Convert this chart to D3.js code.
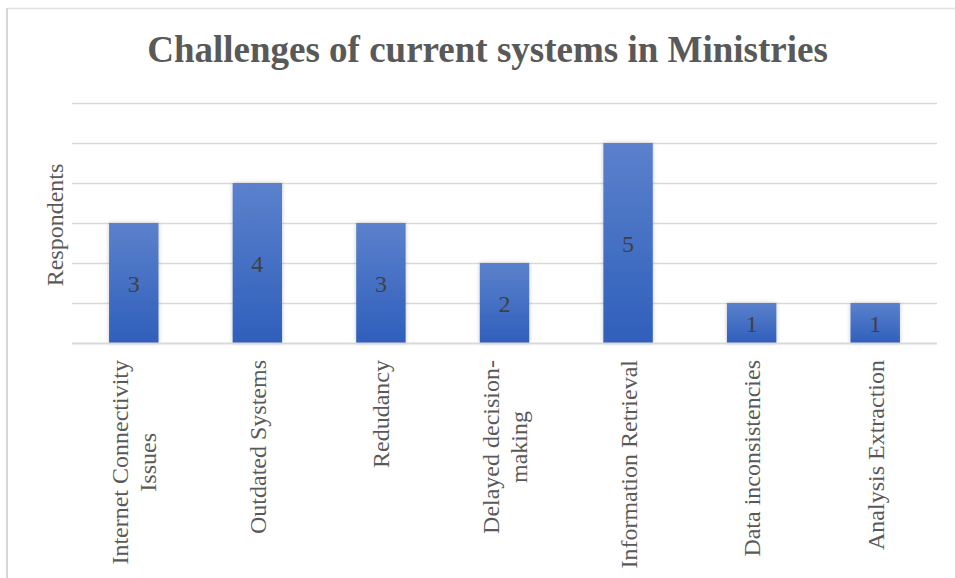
<!DOCTYPE html>
<html>
<head>
<meta charset="utf-8">
<script src="https://cdn.jsdelivr.net/npm/d3@7"></script>
<style>
  html, body { margin: 0; padding: 0; background: #ffffff; }
  svg { display: block; }
</style>
</head>
<body>
<svg id="chart" width="955" height="578"></svg>
<script>
// Survey results: challenges reported with current systems
const categories = [
  ["Internet Connectivity", "Issues"],
  ["Outdated Systems"],
  ["Redudancy"],
  ["Delayed decision-", "making"],
  ["Information Retrieval"],
  ["Data inconsistencies"],
  ["Analysis Extraction"]
];
const respondents = [3, 4, 3, 2, 5, 1, 1];
const yTicks = [0, 1, 2, 3, 4, 5, 6];

const titleText = "Challenges of current systems in Ministries";
const yAxisTitle = "Respondents";

const W = 955, H = 578;
const plot = { left: 72, right: 937, top: 103, bottom: 343 };
const serif = "'Liberation Serif', 'Times New Roman', Times, serif";

const svg = d3.select("#chart");

// chart frame lines (top and left edges)
svg.append("line")
  .attr("x1", 7).attr("x2", W).attr("y1", 8.5).attr("y2", 8.5)
  .attr("stroke", "#e2e2e2").attr("stroke-width", 1.5);
svg.append("line")
  .attr("x1", 7).attr("x2", 7).attr("y1", 8).attr("y2", H)
  .attr("stroke", "#d6d6d6").attr("stroke-width", 2);

const defs = svg.append("defs");
const grad = defs.append("linearGradient")
  .attr("id", "barFill").attr("x1", 0).attr("x2", 0).attr("y1", 0).attr("y2", 1);
grad.append("stop").attr("offset", "0%").attr("stop-color", "#5b81cc");
grad.append("stop").attr("offset", "100%").attr("stop-color", "#2f5fbb");

const shadow = defs.append("filter").attr("id", "barShadow")
  .attr("x", "-30%").attr("y", "-10%").attr("width", "160%").attr("height", "120%");
shadow.append("feDropShadow")
  .attr("dx", 0).attr("dy", 0).attr("stdDeviation", 2.2)
  .attr("flood-color", "#000").attr("flood-opacity", 0.22);

const x = d3.scaleBand()
  .domain(d3.range(categories.length))
  .range([plot.left, plot.right])
  .paddingInner(0.6)
  .paddingOuter(0.3);

const y = d3.scaleLinear()
  .domain([0, 6])
  .range([plot.bottom, plot.top]);

// horizontal gridlines
svg.append("g")
  .selectAll("line")
  .data(yTicks.filter(t => t > 0))
  .join("line")
  .attr("x1", plot.left).attr("x2", plot.right)
  .attr("y1", d => y(d) + 0.5).attr("y2", d => y(d) + 0.5)
  .attr("stroke", "#d9d9d9").attr("stroke-width", 1.5);

// bars
svg.append("g")
  .selectAll("rect")
  .data(respondents)
  .join("rect")
  .attr("x", (d, i) => x(i))
  .attr("width", x.bandwidth())
  .attr("y", d => y(d))
  .attr("height", d => y(0) - y(d))
  .attr("fill", "url(#barFill)")
  .attr("filter", "url(#barShadow)");

// category axis baseline
svg.append("line")
  .attr("x1", plot.left).attr("x2", plot.right)
  .attr("y1", y(0) + 0.5).attr("y2", y(0) + 0.5)
  .attr("stroke", "#d9d9d9").attr("stroke-width", 2);

// value labels centred inside bars
svg.append("g")
  .selectAll("text")
  .data(respondents)
  .join("text")
  .attr("x", (d, i) => x(i) + x.bandwidth() / 2)
  .attr("y", d => (y(d) + y(0)) / 2 + 8.5)
  .attr("text-anchor", "middle")
  .attr("font-family", serif)
  .attr("font-size", 24)
  .attr("fill", "#404040")
  .text(d => d);

// rotated category labels, lines centred on each other
const lineGap = 28;
const labelTop = 360;
const labelG = svg.append("g");
categories.forEach((lines, i) => {
  const cx = x(i) + x.bandwidth() / 2;
  const g = labelG.append("g")
    .attr("transform", `translate(${cx},${labelTop}) rotate(-90)`);
  const n = lines.length;
  const texts = lines.map((ln, k) => g.append("text")
    .attr("text-anchor", "middle")
    .attr("font-family", serif)
    .attr("font-size", 24)
    .attr("fill", "#595959")
    .attr("y", 8.5 + (k - (n - 1) / 2) * lineGap)
    .text(ln));
  const maxW = d3.max(texts, t => t.node().getComputedTextLength());
  texts.forEach(t => t.attr("x", -maxW / 2));
});

// y axis title
svg.append("text")
  .attr("transform", `translate(63,225) rotate(-90)`)
  .attr("text-anchor", "middle")
  .attr("font-family", serif)
  .attr("font-size", 24)
  .attr("fill", "#595959")
  .text(yAxisTitle);

// chart title
svg.append("text")
  .attr("x", 487.5)
  .attr("y", 62)
  .attr("text-anchor", "middle")
  .attr("font-family", serif)
  .attr("font-weight", "bold")
  .attr("font-size", 37)
  .attr("fill", "#595959")
  .text(titleText);
</script>
</body>
</html>
